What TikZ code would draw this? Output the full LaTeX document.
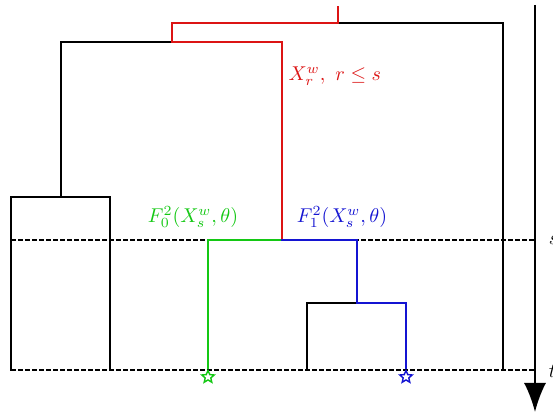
\documentclass[tikz,border=0pt]{standalone}
\usetikzlibrary{shapes.geometric,arrows.meta}
\definecolor{cred}{RGB}{220,20,20}
\definecolor{cgreen}{RGB}{20,200,20}
\definecolor{cblue}{RGB}{20,20,210}
\begin{document}
\begin{tikzpicture}[x=0.5pt,y=-0.5pt, line width=0.75pt,
  branch/.style={line join=miter, line cap=rect},
  levelline/.style={dash pattern=on 2.5pt off 1pt, line width=0.65pt},
  starnode/.style={star, star points=5, star point ratio=2.2, draw, line width=0.7pt, minimum size=6.5pt, inner sep=0pt},
  lab/.style={inner sep=1pt}]
\useasboundingbox (0,0) rectangle (553,416);
\clip (0,0) rectangle (553,416);
% coordinates
\coordinate (r0) at (338,7);
\coordinate (r1) at (338,23);
\coordinate (a) at (172,23);
\coordinate (b) at (503,23);
\coordinate (b1) at (503,370);
\coordinate (a1) at (172,42);
\coordinate (c) at (61,42);
\coordinate (d) at (282,42);
\coordinate (d1) at (282,240);
\coordinate (c1) at (61,197);
\coordinate (e) at (11,197);
\coordinate (f) at (110,197);
\coordinate (e1) at (11,370);
\coordinate (f1) at (110,370);
\coordinate (g) at (208,240);
\coordinate (h) at (357,240);
\coordinate (h1) at (357,303);
\coordinate (i) at (307,303);
\coordinate (i1) at (307,370);
\coordinate (j) at (406,303);
\coordinate (sl) at (11,240);
\coordinate (sr) at (535,240);
\coordinate (tl) at (11,370);
\coordinate (tr) at (535,370);
\coordinate (ax0) at (535,5);
\coordinate (ax1) at (535,412);
% level lines
\draw[levelline] (sl) -- (sr);
\draw[levelline] (tl) -- (tr);
% black branches
\draw[branch] (r1) -- (b) -- (b1);
\draw[branch] (a1) -- (c) -- (c1);
\draw[branch] (e1) -- (e) -- (f) -- (f1);
\draw[branch] (h1) -- (i) -- (i1);
% red path
\draw[branch, cred] (r0) -- (r1) -- (a) -- (a1) -- (d) -- (d1);
% stars
\node[starnode, cgreen] (sg) at (208,377) {};
\node[starnode, cblue] (sb) at (406,377) {};
% green and blue
\draw[branch, cgreen] (d1) -- (g) -- (sg.north);
\draw[branch, cblue] (d1) -- (h) -- (h1) -- (j) -- (sb.north);
% axis
\draw[line width=0.9pt, -{Latex[length=14.5pt,width=11pt]}] (ax0) -- (ax1);
% labels
\node[lab, cred, anchor=west] (lr) at (286,76) {$X_r^w,\ r\le s$};
\node[lab, cgreen] (lg) at (193,217) {$F_0^2(X_s^w,\theta)$};
\node[lab, cblue] (lb) at (342,217) {$F_1^2(X_s^w,\theta)$};
\node[inner sep=0pt, anchor=west] (ls) at (548,240) {$s$};
\node[inner sep=0pt, anchor=west] (lt) at (548,371) {$t$};
\end{tikzpicture}
\end{document}
